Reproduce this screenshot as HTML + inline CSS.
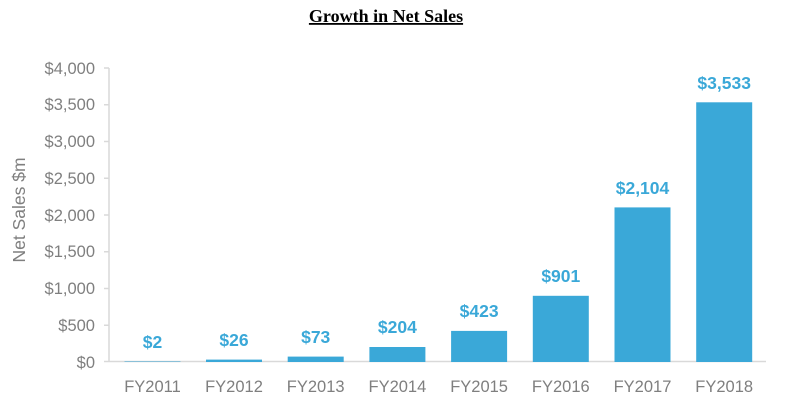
<!DOCTYPE html>
<html><head><style>
body{margin:0;background:#fff;width:810px;height:412px;overflow:hidden}
</style></head><body>
<svg width="810" height="412" xmlns="http://www.w3.org/2000/svg">
<text x="386" y="22" text-anchor="middle" font-family="Liberation Serif, serif" font-weight="bold" font-size="18" text-decoration="underline" fill="#000">Growth in Net Sales</text>
<g stroke="#d9d9d9" stroke-width="1.5">
<line x1="109" y1="68" x2="109" y2="362"/>
<line x1="104" y1="361.5" x2="766" y2="361.5"/>
<line x1="104" y1="68" x2="109" y2="68"/><line x1="104" y1="141.5" x2="109" y2="141.5"/><line x1="104" y1="215" x2="109" y2="215"/><line x1="104" y1="288.5" x2="109" y2="288.5"/>
<line x1="104" y1="104.75" x2="109" y2="104.75"/><line x1="104" y1="178.25" x2="109" y2="178.25"/><line x1="104" y1="251.75" x2="109" y2="251.75"/><line x1="104" y1="325.25" x2="109" y2="325.25"/>
</g>
<g font-family="Liberation Sans, sans-serif" font-size="16.5" fill="#7f7f7f" text-anchor="end">
<text x="95" y="74">$4,000</text><text x="95" y="110">$3,500</text><text x="95" y="147">$3,000</text><text x="95" y="184">$2,500</text><text x="95" y="221">$2,000</text><text x="95" y="257">$1,500</text><text x="95" y="294">$1,000</text><text x="95" y="331">$500</text><text x="95" y="368">$0</text>
</g>
<text transform="translate(25,210) rotate(-90)" text-anchor="middle" font-family="Liberation Sans, sans-serif" font-size="17.5" fill="#7f7f7f">Net Sales $m</text>
<g fill="#3aa8d8">
<rect x="124.5" y="361.5" width="56" height="0.5"/>
<rect x="206" y="359.6" width="56" height="2.4"/>
<rect x="287.7" y="356.6" width="56" height="5.4"/>
<rect x="369.4" y="347" width="56" height="15"/>
<rect x="451.1" y="330.9" width="56" height="31.1"/>
<rect x="532.8" y="295.8" width="56" height="66.2"/>
<rect x="614.5" y="207.4" width="56" height="154.6"/>
<rect x="696.2" y="102.3" width="56" height="259.7"/>
</g>
<g font-family="Liberation Sans, sans-serif" font-size="17.5" font-weight="bold" fill="#3aa8d8" text-anchor="middle">
<text x="152.5" y="348">$2</text><text x="234" y="346">$26</text><text x="315.7" y="343">$73</text><text x="397.4" y="333">$204</text><text x="479.1" y="317">$423</text><text x="560.8" y="282">$901</text><text x="642.5" y="194">$2,104</text><text x="724.2" y="89">$3,533</text>
</g>
<g font-family="Liberation Sans, sans-serif" font-size="16.5" fill="#7f7f7f" text-anchor="middle">
<text x="152.5" y="392">FY2011</text><text x="234" y="392">FY2012</text><text x="315.7" y="392">FY2013</text><text x="397.4" y="392">FY2014</text><text x="479.1" y="392">FY2015</text><text x="560.8" y="392">FY2016</text><text x="642.5" y="392">FY2017</text><text x="724.2" y="392">FY2018</text>
</g>
</svg>
</body></html>
